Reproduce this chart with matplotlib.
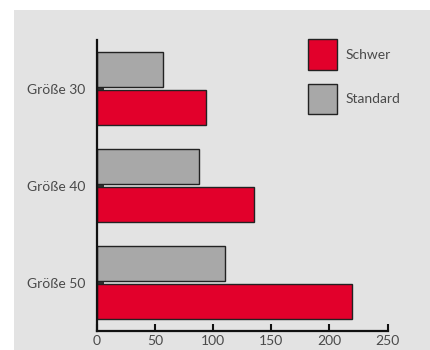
import matplotlib
matplotlib.use("Agg")
import matplotlib.pyplot as plt
from matplotlib.patches import Rectangle
import numpy as np

# data
categories = ["Größe 30", "Größe 40", "Größe 50"]
schwer = [94, 135, 219]
standard = [57, 88, 110]
x_ticks = [0, 50, 100, 150, 200, 250]

plt.rcParams['font.family'] = ['Lato', 'DejaVu Sans']
plt.rcParams['font.size'] = 10
text_col = "#4a4a4a"

fig = plt.figure(figsize=(4.31, 3.5), dpi=100)
fig.patch.set_facecolor("white")
# grey panel behind the chart
fig.patches.append(Rectangle((14 / 431, 0), 1, 1 - 10 / 350, transform=fig.transFigure,
                             facecolor="#e3e3e3", edgecolor="none", zorder=-10))

ax = fig.add_axes([96.7 / 431, 1 - 331 / 350, 291 / 431, 291 / 350])
ax.set_facecolor("none")

y = np.arange(len(categories))
h = 0.36
ax.barh(y - 0.2, standard, height=h, color="#a8a8a8", edgecolor="#222222", linewidth=1, label="Standard")
ax.barh(y + 0.2, schwer, height=h, color="#e2002b", edgecolor="#222222", linewidth=1, label="Schwer")

ax.set_xlim(0, 250)
ax.set_ylim(2.5, -0.5)
ax.set_xticks(x_ticks)
ax.set_yticks(y)
ax.set_yticklabels(categories)

for s in ["top", "right"]:
    ax.spines[s].set_visible(False)
for s in ["left", "bottom"]:
    ax.spines[s].set_linewidth(1.6)
    ax.spines[s].set_color("#111111")

ax.tick_params(axis="x", direction="in", length=5, width=1.5, pad=3, colors="#111111", labelcolor=text_col)
ax.tick_params(axis="y", direction="in", length=5, width=1.2, pad=8, colors="#111111", labelcolor=text_col)

handles, labels = ax.get_legend_handles_labels()
leg = fig.legend(handles[::-1], labels[::-1], loc="upper left",
                 bbox_to_anchor=(308.3 / 431, 1 - 39.3 / 350), frameon=False,
                 borderpad=0, borderaxespad=0, handlelength=2.1, handleheight=3.0,
                 labelspacing=1.0, handletextpad=0.6)
for t in leg.get_texts():
    t.set_color(text_col)

fig.savefig("out.png", dpi=100)
